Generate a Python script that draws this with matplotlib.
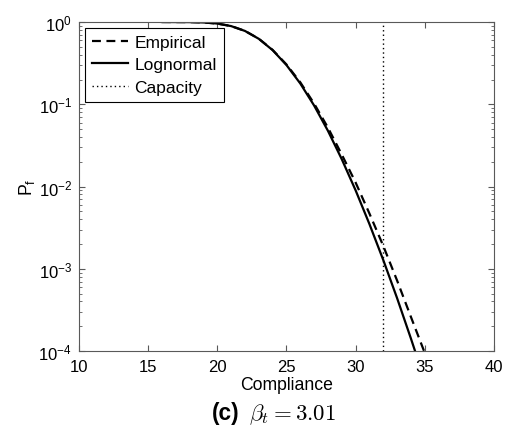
import numpy as np
import matplotlib.pyplot as plt

plt.rcParams['font.family'] = ['Liberation Sans', 'DejaVu Sans']

# values
compliance_ln = [16, 18, 19, 20, 21, 22, 23, 24, 25, 26, 27, 28, 29, 30, 31, 32, 33, 34, 34.5]
pf_lognormal = [1.0, 0.9974, 0.9877, 0.958, 0.892, 0.779, 0.625, 0.455, 0.300, 0.179,
                0.0966, 0.0476, 0.0215, 0.0090, 0.0035, 0.00128, 0.00044, 0.000142, 0.000079]

compliance_emp = [16, 18, 19, 20, 21, 22, 23, 24, 25, 26, 27, 28, 29, 30, 31, 32, 33, 34, 35]
pf_empirical = [1.0, 0.9975, 0.988, 0.958, 0.893, 0.780, 0.627, 0.458, 0.305, 0.185,
                0.102, 0.052, 0.0245, 0.0112, 0.0047, 0.0019, 0.00072, 0.00026, 0.000095]

capacity = 32
x_ticks = [10, 15, 20, 25, 30, 35, 40]

fig = plt.figure(figsize=(5.05, 4.27), dpi=100)
ax = fig.add_axes([0.1564, 0.1756, 0.8216, 0.7705])

ax.plot(compliance_emp, pf_empirical, color='black', lw=1.6, linestyle=(0, (4, 2.5)), label='Empirical')
ax.plot(compliance_ln, pf_lognormal, color='black', lw=1.6, label='Lognormal')
ax.axvline(capacity, color='black', lw=1.0, linestyle=(0, (1, 2.2)), label='Capacity')

ax.set_yscale('log')
ax.set_xlim(10, 40)
ax.set_ylim(1e-4, 1)
ax.set_xticks(x_ticks)
ax.set_yticks([1e-4, 1e-3, 1e-2, 1e-1, 1])

for side in ax.spines.values():
    side.set_color('0.35')
    side.set_linewidth(0.8)
ax.tick_params(which='both', direction='in', top=True, right=True, colors='0.35',
               labelcolor='black', labelsize=12)
ax.tick_params(which='major', length=4)
ax.tick_params(axis='x', which='major', pad=6)
ax.tick_params(axis='y', which='major', pad=5)
ax.tick_params(which='minor', length=2)

ax.set_xlabel('Compliance', fontsize=12.7, labelpad=1)
ax.set_ylabel(r'P$_\mathregular{f}$', fontsize=12.7, labelpad=1)

leg = ax.legend(loc='upper left', bbox_to_anchor=(0.0145, 0.982), borderaxespad=0,
                fontsize=12.5, fancybox=False, edgecolor='black', framealpha=1,
                handlelength=2.1, handletextpad=0.35, labelspacing=0.42, borderpad=0.4)
leg.get_frame().set_linewidth(0.8)

fig.text(0.474, 0.017, '(c)', fontsize=16.3, fontweight='bold', ha='right', va='baseline')
fig.text(0.493, 0.017, r'$\beta_t = 3.01$', fontsize=16.5, ha='left', va='baseline',
         math_fontfamily='cm')

fig.savefig('out.png', dpi=100)
